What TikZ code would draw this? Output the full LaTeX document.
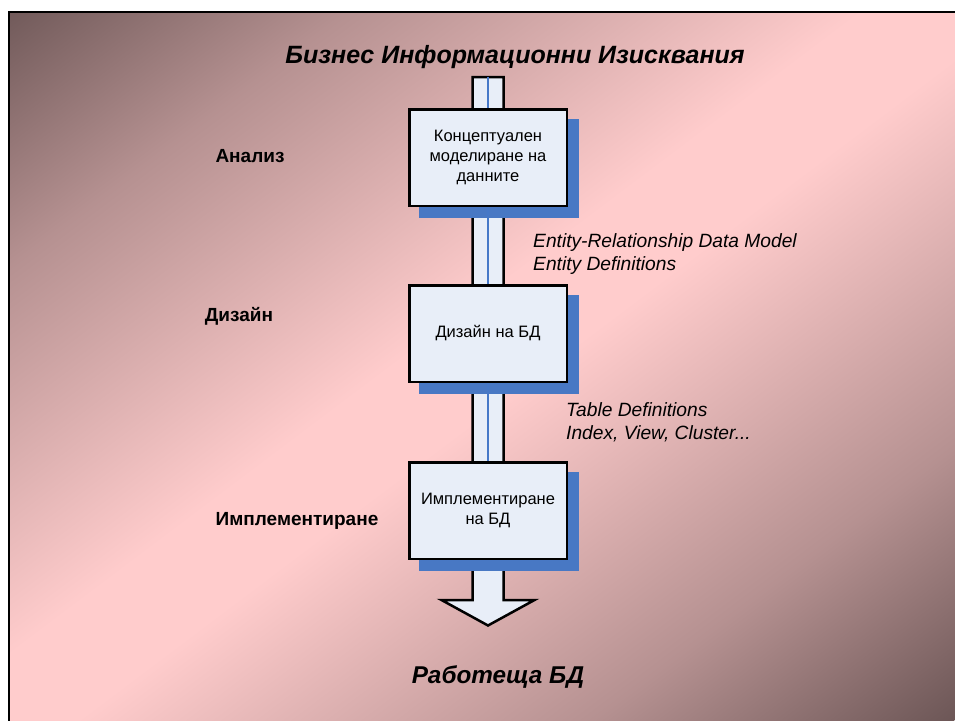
\documentclass[tikz,border=0pt]{standalone}
\usepackage{fontspec}
\setmainfont{Liberation Sans}
\usetikzlibrary{calc}
\definecolor{bgdark}{RGB}{108,86,86}
\definecolor{bgpink}{RGB}{255,204,204}
\definecolor{boxfill}{RGB}{232,238,248}
\definecolor{shadowblue}{RGB}{72,120,196}
\definecolor{lineblue}{RGB}{70,120,200}
\pgfdeclareverticalshading{bgsh}{100bp}{color(0bp)=(bgdark); color(25bp)=(bgdark); color(34.5bp)=(bgdark!50!bgpink); color(48bp)=(bgpink); color(52bp)=(bgpink); color(65.5bp)=(bgdark!50!bgpink); color(75bp)=(bgdark); color(100bp)=(bgdark)}
\pgfdeclarelayer{bgl}
\pgfdeclarelayer{shl}
\pgfsetlayers{bgl,shl,main}
\begin{document}
\begin{tikzpicture}[x=1pt,y=1pt,
  box/.style={draw=black, line width=2.5pt, fill=boxfill, minimum width=157.5pt, minimum height=96.5pt, inner sep=2pt, align=center, font=\fontsize{16.5}{20}\selectfont},
  stage/.style={font=\bfseries\fontsize{19}{22}\selectfont},
  note/.style={font=\itshape\fontsize{19.2}{23}\selectfont, align=left, anchor=west, inner sep=0pt},
  heading/.style={font=\bfseries\itshape\fontsize{25}{30}\selectfont},
  flowline/.style={draw=lineblue, line width=2.8pt},
  flowbody/.style={draw=black, fill=boxfill, line width=2.5pt, line join=miter}]
\useasboundingbox (0,0) rectangle (955,-720);
\begin{pgfonlayer}{bgl}
\fill[white] (0,0) rectangle (955,-720);
\begin{scope}
\clip (9,-12) rectangle (960,-725);
\begin{scope}[transform canvas={shift={(477.5pt,-360pt)}, rotate=37}]
\shade[shading=bgsh] (-800,-575) rectangle (800,575);
\end{scope}
\end{scope}
\draw[line width=2pt] (9,-725) -- (9,-12) -- (960,-12);
\coordinate (stemTL) at (472.5,-77);
\coordinate (stemTR) at (503.5,-77);
\coordinate (stemBR) at (503.5,-600);
\coordinate (headR) at (534.5,-600);
\coordinate (tip) at (488,-625.5);
\coordinate (headL) at (441.5,-600);
\coordinate (stemBL) at (472.5,-600);
\draw[flowbody] (stemTL) -- (stemTR) -- (stemBR) -- (headR) -- (tip) -- (headL) -- (stemBL) -- cycle;
\end{pgfonlayer}

\node[box] (b1) at (488,-157.5) {Концептуален\\моделиране на\\данните};
\node[box] (b2) at (488,-333.5) {Дизайн на БД};
\node[box] (b3) at (488,-510.5) {Имплементиране\\на БД};

\begin{pgfonlayer}{shl}
\foreach \b in {b1,b2,b3}{
  \fill[shadowblue] ($(\b.south west)+(11,-11)$) rectangle ($(\b.north east)+(11,-11)$);
}
\end{pgfonlayer}

\coordinate (top) at (488,-77);
\path[flowline] (top) -- (b1.north);
\path[flowline] (b1.south) -- (b2.north);
\path[flowline] (b2.south) -- (b3.north);

\node[heading] (title) at (515,-57) {Бизнес Информационни Изисквания};
\node[heading, font=\bfseries\itshape\fontsize{24.3}{30}\selectfont] (result) at (498,-677) {Работеща БД};

\node[stage] (l1) at (250,-156) {Анализ};
\node[stage] (l2) at (239,-316) {Дизайн};
\node[stage] (l3) at (297,-521) {Имплементиране};

\node[note] (n1) at (533,-254.5) {Entity-Relationship Data Model\\Entity Definitions};
\node[note] (n2) at (566,-422.5) {Table Definitions\\Index, View, Cluster...};
\end{tikzpicture}
\end{document}
